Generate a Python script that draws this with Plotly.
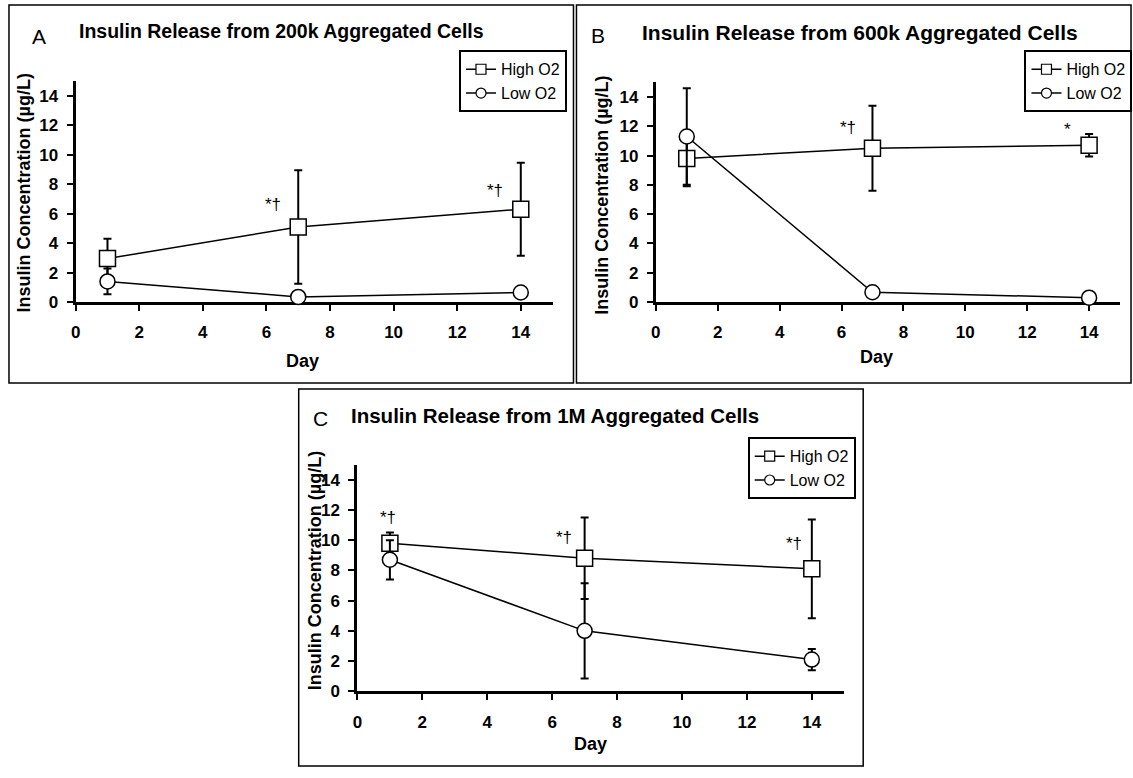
import plotly.graph_objects as go

W, H = 1133, 778

days = [1, 7, 14]
tick_vals = [0, 2, 4, 6, 8, 10, 12, 14]
tick_text = ["0", "2", "4", "6", "8", "10", "12", "14"]

# Panel A: 200k aggregated cells
a_high = [2.95, 5.1, 6.3]
a_high_err = [1.35, 3.85, 3.15]
a_low = [1.4, 0.35, 0.65]
a_low_err = [0.87, 0.15, 0.1]

# Panel B: 600k aggregated cells
b_high = [9.8, 10.5, 10.7]
b_high_err = [1.9, 2.9, 0.77]
b_low = [11.3, 0.67, 0.3]
b_low_err = [3.3, 0.15, 0.1]

# Panel C: 1M aggregated cells
c_high = [9.8, 8.8, 8.1]
c_high_err = [0.7, 2.7, 3.27]
c_low = [8.7, 4.0, 2.1]
c_low_err = [1.3, 3.15, 0.7]

series_names = ["High O2", "Low O2"]
panel_letters = ["A", "B", "C"]
panel_titles = [
    "Insulin Release from 200k Aggregated Cells",
    "Insulin Release from 600k Aggregated Cells",
    "Insulin Release from 1M Aggregated Cells",
]
y_title = "Insulin Concentration (µg/L)"
x_title = "Day"

# significance marks: (day, value, text)
a_marks = [(6.2, 6.6, "*†"), (13.2, 7.6, "*†")]
b_marks = [(6.2, 11.9, "*†"), (13.3, 11.8, "*")]
c_marks = [(0.95, 11.5, "*†"), (6.35, 10.2, "*†"), (13.45, 9.8, "*†")]

FONT = "Liberation Sans, Arial, sans-serif"

def px_x(v):
    return v / W

def px_y(v):
    return 1 - v / H

# layout geometry in pixels
panels = [
    dict(xd=(71, 550), yd=(306, 82), box=(4, 571, 5, 388),
         letter=(34, 37), title=(72, 31, 19.5), ytitle=(20, 195), xtitle=(299, 366),
         legend=(456, 51)),
    dict(xd=(653.7, 1120), yd=(306, 83.4), box=(574, 1131, 5, 388),
         letter=(596, 36), title=(638, 33, 21), ytitle=(600, 198), xtitle=(875, 362),
         legend=(1024, 51)),
    dict(xd=(354, 843), yd=(700.3, 470.6), box=(295, 862, 394, 776),
         letter=(317, 424), title=(346, 421, 20.5), ytitle=(311, 578), xtitle=(588, 754),
         legend=(746, 443)),
]

data = [
    (a_high, a_high_err, a_low, a_low_err, a_marks),
    (b_high, b_high_err, b_low, b_low_err, b_marks),
    (c_high, c_high_err, c_low, c_low_err, c_marks),
]

fig = go.Figure()
annotations = []
shapes = []
legend_ids = ["legend", "legend2", "legend3"]

for i, (p, (hi, hie, lo, loe, marks)) in enumerate(zip(panels, data)):
    xa = "x" if i == 0 else f"x{i+1}"
    ya = "y" if i == 0 else f"y{i+1}"
    lg = legend_ids[i]
    for vals, errs, sym, size, name in [(hi, hie, "square", 16, series_names[0]),
                                        (lo, loe, "circle", 15, series_names[1])]:
        fig.add_trace(go.Scatter(
            x=days, y=vals, mode="lines+markers", name=name,
            xaxis=xa, yaxis=ya, showlegend=False, cliponaxis=False,
            line=dict(color="black", width=1.5),
            marker=dict(symbol=sym, size=size, color="white",
                        line=dict(color="black", width=1.5)),
            error_y=dict(type="data", array=errs, visible=True,
                         color="black", thickness=2, width=4),
        ))
    # legend entries
    for sym, name in [("square", series_names[0]), ("circle", series_names[1])]:
        fig.add_trace(go.Scatter(
            x=[None], y=[None], mode="lines+markers", name=name,
            xaxis=xa, yaxis=ya, legend=lg, showlegend=True,
            line=dict(color="black", width=1.5),
            marker=dict(symbol=sym, size=10, color="white",
                        line=dict(color="black", width=1.2)),
        ))
    ax_common = dict(
        range=[0, 15], showline=True, linewidth=3, linecolor="black",
        ticks="outside", ticklen=6, tickwidth=2, tickcolor="black",
        showgrid=False, zeroline=False, layer="below traces",
        tickvals=tick_vals, ticktext=tick_text,
        tickfont=dict(family=FONT, size=17, color="black", weight="bold"),
        fixedrange=True,
    )
    xkey = "xaxis" if i == 0 else f"xaxis{i+1}"
    ykey = "yaxis" if i == 0 else f"yaxis{i+1}"
    fig.update_layout({
        xkey: dict(ax_common, domain=[px_x(p["xd"][0]), px_x(p["xd"][1])],
                   anchor=ya, ticklabelstandoff=7),
        ykey: dict(ax_common, domain=[px_y(p["yd"][0]), px_y(p["yd"][1])],
                   anchor=xa, ticklabelstandoff=5),
    })
    lx, ly = p["legend"]
    fig.update_layout({lg: dict(
        x=px_x(lx), y=px_y(ly), xanchor="left", yanchor="top",
        xref="paper", yref="paper",
        bgcolor="white", bordercolor="black", borderwidth=2,
        font=dict(family=FONT, size=16, color="black"),
        itemwidth=30, tracegroupgap=0,
    )})
    # panel border
    x0, x1, y0, y1 = p["box"]
    shapes.append(dict(type="rect", xref="paper", yref="paper",
                       x0=px_x(x0), x1=px_x(x1), y0=px_y(y0), y1=px_y(y1),
                       line=dict(color="black", width=1.5), layer="below"))
    # letter
    annotations.append(dict(text=panel_letters[i], xref="paper", yref="paper",
                            x=px_x(p["letter"][0]), y=px_y(p["letter"][1]),
                            xanchor="center", yanchor="middle", showarrow=False,
                            font=dict(family=FONT, size=21, color="black")))
    tx, ty, tsize = p["title"]
    annotations.append(dict(text=panel_titles[i], xref="paper", yref="paper",
                            x=px_x(tx), y=px_y(ty), xanchor="left", yanchor="middle",
                            showarrow=False,
                            font=dict(family=FONT, size=tsize, color="black", weight="bold")))
    annotations.append(dict(text=y_title, xref="paper", yref="paper",
                            x=px_x(p["ytitle"][0]), y=px_y(p["ytitle"][1]),
                            xanchor="center", yanchor="middle", textangle=-90,
                            showarrow=False,
                            font=dict(family=FONT, size=18, color="black", weight="bold")))
    annotations.append(dict(text=x_title, xref="paper", yref="paper",
                            x=px_x(p["xtitle"][0]), y=px_y(p["xtitle"][1]),
                            xanchor="center", yanchor="middle", showarrow=False,
                            font=dict(family=FONT, size=18, color="black", weight="bold")))
    for (mx, my, mt) in marks:
        annotations.append(dict(text=mt, xref=xa, yref=ya, x=mx, y=my,
                                xanchor="center", yanchor="middle", showarrow=False,
                                font=dict(family=FONT, size=17, color="black")))

fig.update_layout(
    width=W, height=H, margin=dict(l=0, r=0, t=0, b=0),
    paper_bgcolor="white", plot_bgcolor="white",
    annotations=annotations, shapes=shapes,
)

fig.write_html("out.html")
